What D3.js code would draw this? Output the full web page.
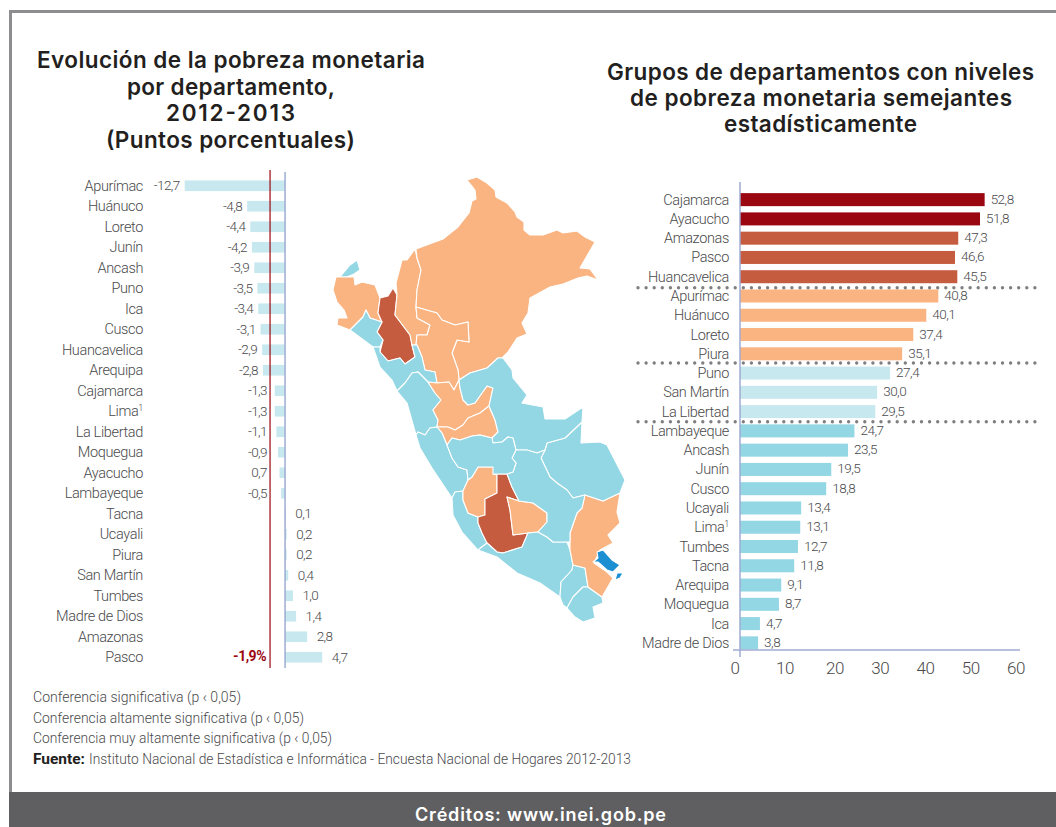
<!DOCTYPE html>
<html><head><meta charset="utf-8">
<script src="https://cdn.jsdelivr.net/npm/d3@7/dist/d3.min.js"></script>
<style>html,body{margin:0;padding:0;background:#fff}svg{display:block}</style></head>
<body><svg id="c" width="1056" height="827"></svg>
<script>
// LEFT CHART: change 2012-2013
const changeDepartments = ["Apurímac","Huánuco","Loreto","Junín","Ancash","Puno","Ica","Cusco","Huancavelica","Arequipa","Cajamarca","Lima","La Libertad","Moquegua","Ayacucho","Lambayeque","Tacna","Ucayali","Piura","San Martín","Tumbes","Madre de Dios","Amazonas","Pasco"];
const changeValues = [-12.7,-4.8,-4.4,-4.2,-3.9,-3.5,-3.4,-3.1,-2.9,-2.8,-1.3,-1.3,-1.1,-0.9,-0.7,-0.5,0.1,0.2,0.2,0.4,1.0,1.4,2.8,4.7];
const changeLabels = ["-12,7","-4,8","-4,4","-4,2","-3,9","-3,5","-3,4","-3,1","-2,9","-2,8","-1,3","-1,3","-1,1","-0,9","0,7","-0,5","0,1","0,2","0,2","0,4","1,0","1,4","2,8","4,7"];
const nationalChange = -1.9;
const nationalLabel = "-1,9%";

// RIGHT CHART: poverty levels
const levelDepartments = ["Cajamarca","Ayacucho","Amazonas","Pasco","Huancavelica","Apurímac","Huánuco","Loreto","Piura","Puno","San Martín","La Libertad","Lambayeque","Ancash","Junín","Cusco","Ucayali","Lima","Tumbes","Tacna","Arequipa","Moquegua","Ica","Madre de Dios"];
const levelBars = [52.8,51.8,47.1,46.4,46.9,42.8,40.2,37.4,35.0,32.4,29.6,29.2,24.7,23.3,19.7,18.6,13.2,13.0,12.5,11.7,8.9,8.4,4.3,3.9];
const levelLabels = ["52,8","51,8","47,3","46,6","45,5","40,8","40,1","37,4","35,1","27,4","30,0","29,5","24,7","23,5","19,5","18,8","13,4","13,1","12,7","11,8","9,1","8,7","4,7","3,8"];
const levelGroups = [0,0,1,1,1,2,2,2,2,3,3,3,4,4,4,4,4,4,4,4,4,4,4,4];
const levelTicks = [0,10,20,30,40,50,60];

const titleLeft = ["Evolución de la pobreza monetaria","por departamento,","2012-2013","(Puntos porcentuales)"];
const titleRight = ["Grupos de departamentos con niveles","de pobreza monetaria semejantes","estadísticamente"];
const notes = ["Conferencia significativa (p ‹ 0,05)","Conferencia altamente significativa (p ‹ 0,05)","Conferencia muy altamente significativa (p ‹ 0,05)"];
const sourceLabel = "Fuente:";
const sourceText = "Instituto Nacional de Estadística e Informática - Encuesta Nacional de Hogares 2012-2013";
const credits = "Créditos: www.inei.gob.pe";

// MAP outlines
const mapNames = ["Tumbes","Piura","Cajamarca","Amazonas","Loreto","San Martín","Lambayeque","La Libertad","Ancash","Huánuco","Pasco","Lima","Ica","Huancavelica","Ayacucho","Apurímac","Arequipa","Moquegua","Tacna","Puno","Madre de Dios","Ucayali","Cusco","Junín","Lago Titicaca","Lago Titicaca sur"];
const mapTiers = [2,1,0,1,1,1,2,2,2,1,1,2,2,1,0,1,2,2,2,1,2,2,2,2,3,3];
const mapOutlines = [
[[340,277],[350,265],[357,260],[360,270],[354,274],[347,277]],
[[336,277],[347,277],[354,277],[355,285],[362,282],[375,285],[380,298],[378,313],[382,322],[370,318],[366,310],[363,317],[350,330],[337,325],[338,318],[347,318],[344,310],[337,302],[333,290]],
[[393,288],[397,295],[395,315],[410,335],[412,345],[415,357],[405,364],[400,358],[388,361],[380,352],[383,340],[377,332],[382,322],[378,313],[380,298],[388,296]],
[[415,249],[417,258],[421,270],[417,290],[416,307],[417,318],[430,325],[427,335],[417,335],[416,345],[412,345],[410,335],[395,315],[397,295],[396,283],[402,260],[407,260]],
[[416,249],[443,239],[458,227],[469,213],[472,201],[476,199],[475,190],[467,180],[477,177],[487,183],[495,190],[496,197],[507,203],[515,212],[517,217],[524,222],[524,230],[530,235],[543,235],[557,230],[563,233],[577,231],[585,237],[595,242],[580,268],[590,269],[598,280],[587,276],[578,278],[563,284],[550,287],[530,298],[528,313],[522,323],[527,334],[517,338],[508,352],[502,358],[498,358],[487,368],[470,373],[459,380],[458,370],[452,353],[457,340],[469,342],[468,322],[455,325],[442,320],[437,313],[416,307],[417,290],[421,270],[417,258]],
[[416,307],[437,313],[442,320],[455,325],[468,322],[469,342],[457,340],[452,353],[458,370],[459,380],[454,390],[449,382],[437,383],[435,372],[425,370],[422,357],[417,345],[416,345],[417,335],[427,335],[430,325],[417,318]],
[[350,330],[363,317],[366,310],[370,318],[382,322],[377,332],[383,340],[380,347],[373,347]],
[[373,347],[380,347],[380,352],[388,361],[400,358],[405,364],[415,357],[412,345],[416,345],[417,345],[422,357],[425,370],[435,372],[437,383],[428,382],[418,372],[412,373],[405,383],[397,391],[392,380],[380,367]],
[[397,391],[405,383],[412,373],[418,372],[428,382],[435,393],[441,400],[433,410],[438,420],[437,427],[430,428],[425,435],[418,432],[416,435],[407,403]],
[[428,382],[437,383],[449,382],[454,390],[459,380],[460,388],[463,400],[468,405],[475,403],[482,393],[487,386],[493,388],[489,406],[480,413],[468,418],[463,425],[455,430],[448,427],[437,427],[438,420],[433,410],[441,400],[435,393]],
[[437,427],[448,427],[455,430],[463,425],[468,418],[480,413],[489,406],[495,420],[498,432],[492,438],[480,435],[472,436],[460,440],[452,438],[447,445],[442,433]],
[[416,435],[418,432],[425,435],[430,428],[437,427],[442,433],[447,445],[452,458],[458,467],[467,470],[468,480],[463,491],[455,492],[452,498],[432,468],[420,448]],
[[452,498],[455,492],[463,491],[463,500],[468,513],[478,517],[478,523],[482,533],[487,543],[478,550],[462,532],[453,515]],
[[478,467],[493,467],[497,475],[497,493],[485,499],[485,515],[478,517],[468,513],[463,500],[463,491],[468,480],[472,477]],
[[493,474],[507,474],[512,487],[519,501],[507,497],[510,510],[513,535],[528,533],[522,547],[503,553],[497,552],[487,543],[482,533],[478,523],[478,517],[485,515],[485,499],[497,493],[497,475]],
[[507,497],[519,501],[533,503],[547,513],[547,522],[538,532],[528,533],[513,535],[510,510]],
[[478,550],[487,543],[497,552],[503,553],[522,547],[528,533],[538,532],[547,537],[553,542],[567,542],[570,550],[573,565],[572,570],[561,582],[560,597],[540,583],[517,573],[497,557]],
[[560,597],[561,582],[572,570],[573,565],[585,568],[588,587],[583,587],[573,597],[567,608],[563,605]],
[[567,608],[573,597],[583,587],[588,587],[602,597],[603,603],[593,607],[595,618],[583,622],[575,617]],
[[585,495],[603,501],[620,493],[617,512],[620,523],[608,535],[613,543],[600,550],[594,563],[607,572],[613,578],[602,597],[588,587],[585,568],[573,565],[570,550],[570,533],[577,513],[582,508]],
[[582,422],[581,443],[600,442],[607,445],[625,480],[620,493],[603,501],[585,495],[573,498],[567,490],[557,483],[550,477],[541,458],[545,450],[547,443],[565,438]],
[[459,380],[470,373],[487,368],[498,358],[503,358],[512,370],[513,378],[527,395],[522,403],[543,407],[545,419],[565,419],[583,407],[582,422],[565,438],[547,443],[545,450],[537,453],[527,450],[516,450],[513,438],[508,437],[502,442],[493,443],[492,438],[498,432],[495,420],[489,406],[493,388],[487,386],[482,393],[475,403],[468,405],[463,400],[460,388]],
[[516,450],[527,450],[537,453],[545,450],[541,458],[550,477],[557,483],[567,490],[573,498],[585,495],[582,508],[577,513],[570,533],[570,542],[567,542],[553,542],[547,537],[538,532],[547,522],[547,513],[533,503],[519,501],[512,487],[507,474],[513,472],[516,463],[512,458]],
[[447,445],[452,438],[460,440],[472,436],[480,435],[492,438],[493,443],[502,442],[508,437],[513,438],[516,450],[512,458],[516,463],[513,472],[507,474],[493,474],[493,467],[478,467],[472,477],[468,480],[467,470],[458,467],[452,458]],
[[597,552],[603,550],[612,560],[620,565],[613,572],[607,570],[598,562],[593,562],[598,558]],
[[617,573],[623,573],[620,578],[615,580]]
];

const ink="#4a4a4c", axisBlue="#9fabd2", deep="#9b0711", brick="#c55c40", peach="#f9b482", pale="#c8e8ef", aqua="#93d6e4";
const body="Roboto,'Liberation Sans',sans-serif";
const head="Inter,'Liberation Sans',sans-serif";
const svg=d3.select("#c");

// frame
svg.append("rect").attr("width",1056).attr("height",827).attr("fill","#fff");
svg.append("path").attr("d","M10.5,827V11.5H1056").attr("fill","none").attr("stroke","#8d8d8f").attr("stroke-width",3);
svg.append("rect").attr("x",9).attr("y",792).attr("width",1047).attr("height",35).attr("fill","#5f5f61");

// titles
function block(lines,xs,baselines,color){
  svg.append("g").selectAll("text").data(lines).join("text")
   .attr("x",(d,i)=>xs[i][0]).attr("y",(d,i)=>baselines[i])
   .attr("textLength",(d,i)=>xs[i][1]-xs[i][0]).attr("lengthAdjust","spacing")
   .attr("font-family",head).attr("font-weight",600).attr("font-size",22.5).attr("fill",color).text(d=>d);
}
block(titleLeft,[[37,425],[127,335],[166,295],[106,355]],[68,95,121,148],"#231f20");
block(titleRight,[[607,1034],[630,1012],[724,917]],[80,106,132],"#231f20");

// left chart
const xL=d3.scaleLinear().domain([-12.7,4.7]).range([184.7,322.2]);
const yL=d3.scaleBand().domain(changeDepartments).range([175.5,667.5]).paddingInner(0.48).paddingOuter(0.24);
const left=svg.append("g");
left.selectAll("rect").data(changeValues).join("rect")
 .attr("x",d=>Math.min(xL(d),xL(0))).attr("width",d=>Math.abs(xL(d)-xL(0)))
 .attr("y",(d,i)=>yL(changeDepartments[i])).attr("height",yL.bandwidth()).attr("fill",pale);
function rowLabels(g,names,y,xEnd){
 const t=g.append("g").selectAll("text").data(names).join("text")
  .attr("x",xEnd).attr("y",d=>y(d)+y.bandwidth()/2+5).attr("text-anchor","end")
  .attr("font-family",body).attr("font-weight",300).attr("font-size",14.5).attr("letter-spacing",-0.35).attr("fill",ink);
 t.text(d=>d);
 t.filter(d=>d==="Lima").append("tspan").attr("font-size",9).attr("dy",-5).text("1");
}
rowLabels(left,changeDepartments,yL,143);
left.append("g").selectAll("text").data(changeValues).join("text")
 .attr("x",d=>d<0?Math.min(xL(d)-5,267):xL(d)+9.5)
 .attr("y",(d,i)=>yL(changeDepartments[i])+yL.bandwidth()/2+4.5)
 .attr("text-anchor",d=>d<0?"end":"start")
 .attr("font-family",body).attr("font-weight",300).attr("font-size",13.5).attr("letter-spacing",-0.6).attr("fill",ink)
 .text((d,i)=>changeLabels[i]);
left.append("line").attr("x1",xL(0)).attr("x2",xL(0)).attr("y1",172).attr("y2",668).attr("stroke",axisBlue).attr("stroke-width",1.5);
left.append("line").attr("x1",xL(nationalChange)).attr("x2",xL(nationalChange)).attr("y1",170).attr("y2",668).attr("stroke",deep).attr("stroke-width",1.2);
left.append("text").attr("x",266).attr("y",yL("Pasco")+yL.bandwidth()/2+3.5).attr("text-anchor","end")
 .attr("font-family",body).attr("font-weight",700).attr("font-size",14).attr("letter-spacing",-0.5).attr("fill",deep).text(nationalLabel);

// map
const mapFeatures=mapOutlines.map((pts,i)=>({type:"Feature",properties:{name:mapNames[i],tier:mapTiers[i]},geometry:{type:"Polygon",coordinates:[pts.concat([pts[0]])]}}));
const mapPath=d3.geoPath(d3.geoIdentity());
const tierFill=d3.scaleOrdinal().domain([0,1,2,3]).range([brick,peach,aqua,"#1b8fd2"]);
svg.append("g").selectAll("path").data(mapFeatures).join("path")
 .attr("d",mapPath).attr("fill",d=>tierFill(d.properties.tier))
 .attr("stroke","#fff").attr("stroke-width",1.1).attr("stroke-linejoin","round");

// right chart
const xR=d3.scaleLinear().domain([0,60]).range([740,1018]);
const xTick=d3.scaleLinear().domain([0,20,60]).range([735,835,1016]);
const yR=d3.scaleBand().domain(levelDepartments).range([190,652.5]).paddingInner(0.325).paddingOuter(0.1625);
const groupFill=d3.scaleOrdinal().domain([0,1,2,3,4]).range([deep,brick,peach,pale,aqua]);
const right=svg.append("g");
right.selectAll("rect").data(levelBars).join("rect")
 .attr("x",xR(0)).attr("width",d=>xR(d)-xR(0))
 .attr("y",(d,i)=>yR(levelDepartments[i])).attr("height",yR.bandwidth())
 .attr("fill",(d,i)=>groupFill(levelGroups[i]));
rowLabels(right,levelDepartments,yR,729);
right.append("g").selectAll("text").data(levelBars).join("text")
 .attr("x",d=>xR(d)+6).attr("y",(d,i)=>yR(levelDepartments[i])+yR.bandwidth()/2+4)
 .attr("font-family",body).attr("font-weight",300).attr("font-size",13.5).attr("letter-spacing",-0.5).attr("fill",ink)
 .text((d,i)=>levelLabels[i]);
right.append("line").attr("x1",xR(0)).attr("x2",xR(0)).attr("y1",182).attr("y2",657).attr("stroke",axisBlue).attr("stroke-width",1.5);
right.append("line").attr("x1",733).attr("x2",1020).attr("y1",650).attr("y2",650).attr("stroke",axisBlue).attr("stroke-width",1.5);
right.append("g").selectAll("text").data(levelTicks).join("text")
 .attr("x",d=>xTick(d)).attr("y",674).attr("text-anchor","middle")
 .attr("font-family",body).attr("font-weight",300).attr("font-size",17).attr("letter-spacing",-0.4).attr("fill",ink).text(d=>d);
// dotted separators between groups
const sepAfter=[4,8,11];
right.append("g").selectAll("line").data(sepAfter).join("line")
 .attr("x1",638).attr("x2",1043)
 .attr("y1",(d,i)=>[287.7,363,421.7][i]).attr("y2",(d,i)=>[287.7,363,421.7][i])
 .attr("stroke","#7f7f81").attr("stroke-width",3.4).attr("stroke-linecap","round").attr("stroke-dasharray","0 8.1");

// notes
const foot=svg.append("g").attr("font-family",body).attr("font-weight",300).attr("font-size",14.5).attr("fill",ink);
foot.selectAll("text").data(notes).join("text")
 .attr("x",33).attr("y",(d,i)=>[702,723,743][i])
 .attr("textLength",(d,i)=>[208,271,299][i]).attr("lengthAdjust","spacingAndGlyphs").text(d=>d);
foot.append("text").attr("x",33).attr("y",764).attr("font-weight",700).attr("fill","#231f20")
 .attr("textLength",52).attr("lengthAdjust","spacingAndGlyphs").text(sourceLabel);
foot.append("text").attr("x",89).attr("y",764).attr("textLength",542).attr("lengthAdjust","spacingAndGlyphs").text(sourceText);
svg.append("text").attr("x",415).attr("y",821).attr("textLength",251).attr("lengthAdjust","spacing")
 .attr("font-family",head).attr("font-weight",600).attr("font-size",18).attr("fill","#fff").text(credits);
</script></body></html>
